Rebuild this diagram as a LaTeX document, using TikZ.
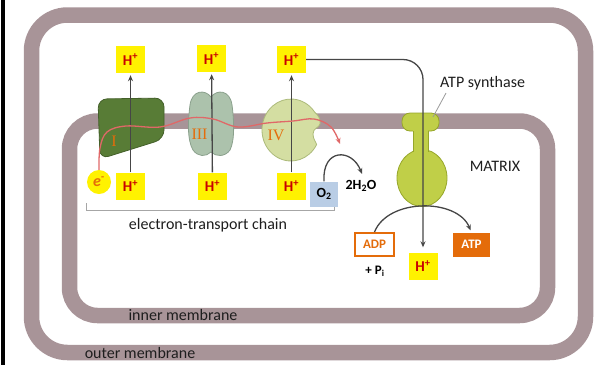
\documentclass[tikz,border=0pt]{standalone}
\usepackage{fontspec}
\setmainfont{Carlito}
\newfontfamily\romanfont{Liberation Serif}
\usetikzlibrary{arrows.meta}
\definecolor{memb}{RGB}{168,148,152}
\definecolor{cIfill}{RGB}{88,124,54}
\definecolor{cIdraw}{RGB}{68,96,42}
\definecolor{cIIIfill}{RGB}{172,194,172}
\definecolor{cIIIdraw}{RGB}{138,160,140}
\definecolor{cIVfill}{RGB}{212,222,162}
\definecolor{cIVdraw}{RGB}{172,186,122}
\definecolor{synfill}{RGB}{192,207,72}
\definecolor{syndraw}{RGB}{150,166,42}
\definecolor{redl}{RGB}{224,104,104}
\definecolor{hred}{RGB}{200,0,0}
\definecolor{org}{RGB}{228,108,10}
\definecolor{arrg}{RGB}{70,70,70}
\definecolor{otwo}{RGB}{185,205,229}
\definecolor{txt}{RGB}{30,30,30}
\tikzset{
  membrane/.style={draw=memb, line width=15.5pt},
  hbox/.style={fill=yellow, text=hred, font=\fontsize{15}{15}\selectfont\bfseries, minimum width=29pt, minimum height=27pt, inner sep=0pt},
  arr/.style={draw=arrg, line width=1.3pt, -{Stealth[length=6pt, width=5pt]}},
  lbl/.style={text=txt, font=\fontsize{16}{16}\selectfont, inner sep=0pt},
  numlbl/.style={text=org, font=\fontsize{16}{16}\selectfont\romanfont, inner sep=0pt},
  chem/.style={text=black, font=\fontsize{14}{14}\selectfont\bfseries, inner sep=0pt},
}
\begin{document}
\begin{tikzpicture}[x=1pt, y=-1pt]
\useasboundingbox (0,0) rectangle (609,365);
% left black bar
\draw[black, line width=3.5pt] (3.2,0) -- (3.2,365);
% membranes
\draw[membrane, rounded corners=36pt] (31.5,15) rectangle (585.5,352.5);
\draw[membrane, rounded corners=28pt] (69.5,121) rectangle (547.5,315.5);
% Complex I
\draw[fill=cIfill, draw=cIdraw, line width=0.8pt, rounded corners=9pt] (98,99) -- (164,98) -- (164,139) -- (100,159) -- cycle;
% Complex III
\draw[fill=cIIIfill, draw=cIIIdraw, line width=0.8pt] (211,97) .. controls (205,89) and (192,90) .. (190,105) .. controls (188,120) and (187,140) .. (193,150) .. controls (198,157) and (206,157) .. (211,152) .. controls (216,157) and (225,157) .. (230,150) .. controls (235,140) and (234,120) .. (232,105) .. controls (230,90) and (217,89) .. (211,97) -- cycle;
% Complex IV
\draw[fill=cIVfill, draw=cIVdraw, line width=0.8pt] (291,130) ++(28:29 and 31) arc[start angle=28, end angle=325, x radius=29, y radius=31] .. controls (318,115) and (321,119) .. (320,124) .. controls (319,128) and (313,128) .. (313,134) .. controls (313,139) and (316,142) .. cycle;
% ATP synthase
\draw[fill=synfill, draw=syndraw, line width=0.8pt] (422,178) ellipse[x radius=25, y radius=28.5];
\draw[fill=synfill, draw=syndraw, line width=0.8pt, rounded corners=8pt] (402,113) rectangle (439,131);
\fill[synfill] (413,129) rectangle (428,153);
\draw[syndraw, line width=0.8pt] (413,131) -- (413,151.5) (428,131) -- (428,151.5);
% bracket
\draw[gray!70, line width=1pt] (86,203) -- (86,210.5) -- (334,210.5) -- (334,203);
\node[lbl] (etc) at (208,225) {electron-transport chain};
% H+ boxes
\node[hbox] (h1t) at (130.5,59.5) {H\textsuperscript{+}};
\node[hbox] (h1b) at (130.5,186) {H\textsuperscript{+}};
\node[hbox] (h2t) at (211.5,58.5) {H\textsuperscript{+}};
\node[hbox] (h2b) at (212.5,186) {H\textsuperscript{+}};
\node[hbox] (h3t) at (291.5,59.5) {H\textsuperscript{+}};
\node[hbox] (h3b) at (291.5,186) {H\textsuperscript{+}};
\node[hbox] (h4) at (423,266) {H\textsuperscript{+}};
% proton arrows
\draw[arr, shorten >=2pt] (h1b) -- (h1t);
\draw[arr, shorten >=2pt] (h2b) -- (h2t);
\draw[arr, shorten >=2pt] (h3b) -- (h3t);
\draw[arr, rounded corners=20pt, shorten >=5pt] (h3t.east) -| (h4.north);
% electron
\node[circle, fill=yellow, minimum size=24pt, inner sep=0pt, text=org, font=\fontsize{16}{16}\selectfont\itshape\bfseries] (e) at (99,182) {e\textsuperscript{-}};
\coordinate (eend) at (340,144);
\draw[redl, line width=1.3pt, -{Stealth[length=6pt, width=5pt]}] plot[smooth, tension=0.6] coordinates {(e.north) (100,148) (107,132) (126,126) (160,127) (190,118) (213,119) (238,127) (267,123) (293,121) (314,119) (331,127) (eend)};
% numerals
\node[numlbl] (nI) at (114,141) {I};
\node[numlbl] (nIII) at (199.5,134) {III};
\node[numlbl] (nIV) at (276,135) {IV};
% O2 -> water
\node[chem, fill=otwo, minimum width=28pt, minimum height=25pt] (o2) at (324,194) {O\textsubscript{2}};
\node[chem] (h2o) at (361,186) {2H\textsubscript{2}O};
\coordinate (h2oarr) at (362,174);
\draw[arr] (o2.north) .. controls (322,148) and (352,148) .. (h2oarr);
% ADP -> ATP
\node[draw=org, line width=2pt, fill=white, text=org, font=\fontsize{13}{13}\selectfont\bfseries, minimum width=39pt, minimum height=23pt, inner sep=0pt] (adp) at (374.5,244.5) {ADP};
\node[fill=org, text=white, font=\fontsize{13}{13}\selectfont\bfseries, minimum width=37pt, minimum height=24pt, inner sep=0pt] (atp) at (471.5,244.5) {ATP};
\node[chem, font=\fontsize{13}{13}\selectfont\bfseries] (pi) at (375,271) {+ P\textsubscript{i}};
\draw[arr, shorten >=2pt] (adp.north) .. controls (388,198) and (457,198) .. (atp.north);
% labels
\node[lbl, anchor=west] (syn) at (440,83) {ATP synthase};
\draw[gray!80, line width=0.8pt] (syn.south west) ++(6,3) -- (433,117);
\node[lbl] (matrix) at (495,166.5) {MATRIX};
\node[lbl] (inner) at (183,315) {inner membrane};
\node[lbl] (outer) at (140,352.5) {outer membrane};
\end{tikzpicture}
\end{document}
